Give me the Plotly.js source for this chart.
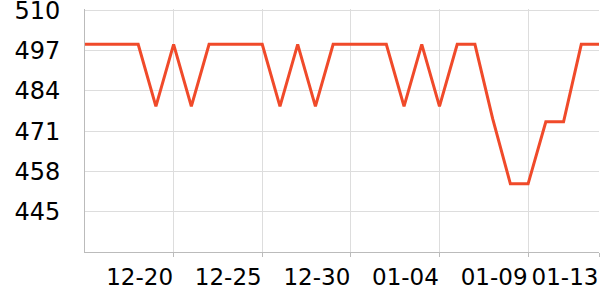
<!DOCTYPE html>
<html>
<head>
<meta charset="utf-8">
<script src="https://cdn.plot.ly/plotly-3.0.1.min.js"></script>
<style>html,body{margin:0;padding:0;background:#fff;}#chart{width:600px;height:300px;}</style>
</head>
<body>
<div id="chart"></div>
<script>
var dates = ["2023-12-15","2023-12-16","2023-12-17","2023-12-18","2023-12-19","2023-12-20","2023-12-21","2023-12-22","2023-12-23","2023-12-24","2023-12-25","2023-12-26","2023-12-27","2023-12-28","2023-12-29","2023-12-30","2023-12-31","2024-01-01","2024-01-02","2024-01-03","2024-01-04","2024-01-05","2024-01-06","2024-01-07","2024-01-08","2024-01-09","2024-01-10","2024-01-11","2024-01-12","2024-01-13"];
var values = [499,499,499,499,479,499,479,499,499,499,499,479,499,479,499,499,499,499,479,499,479,499,499,475,454,454,474,474,499,499];
var xTickVals = ["2023-12-20","2023-12-25","2023-12-30","2024-01-04","2024-01-09","2024-01-13"];
var xTickText = ["12-20","12-25","12-30","01-04","01-09","01-13"];
var yTickVals = [445,458,471,484,497,510];

var trace = {
  x: dates, y: values, type: 'scatter', mode: 'lines',
  line: {color: '#f04a2a', width: 3}, hoverinfo: 'x+y'
};
var layout = {
  width: 600, height: 300,
  margin: {l: 85, r: 1, t: 9, b: 48},
  paper_bgcolor: '#fff', plot_bgcolor: '#fff',
  showlegend: false,
  font: {family: 'DejaVu Sans, sans-serif', size: 24, color: '#000'},
  xaxis: {
    type: 'date',
    range: [dates[0], dates[dates.length-1]],
    tickvals: xTickVals, ticktext: xTickText,
    tickangle: 0, tickfont: {size: 23},
    showgrid: true, gridcolor: '#dddddd', gridwidth: 1,
    showline: true, linecolor: '#bbbbbb', linewidth: 1,
    ticks: 'outside', ticklen: 4, tickcolor: '#bbbbbb',
    ticklabelshift: -34, ticklabelstandoff: 0, ticklabeloverflow: 'allow',
    zeroline: false, fixedrange: true
  },
  yaxis: {
    range: [432, 510.4],
    tickvals: yTickVals,
    showgrid: true, gridcolor: '#dddddd', gridwidth: 1,
    showline: true, linecolor: '#bbbbbb', linewidth: 1,
    ticks: '', ticklabelstandoff: 19, ticklabeloverflow: 'allow',
    zeroline: false, fixedrange: true
  }
};
Plotly.newPlot('chart', [trace], layout, {displayModeBar: false, staticPlot: true});
</script>
</body>
</html>
